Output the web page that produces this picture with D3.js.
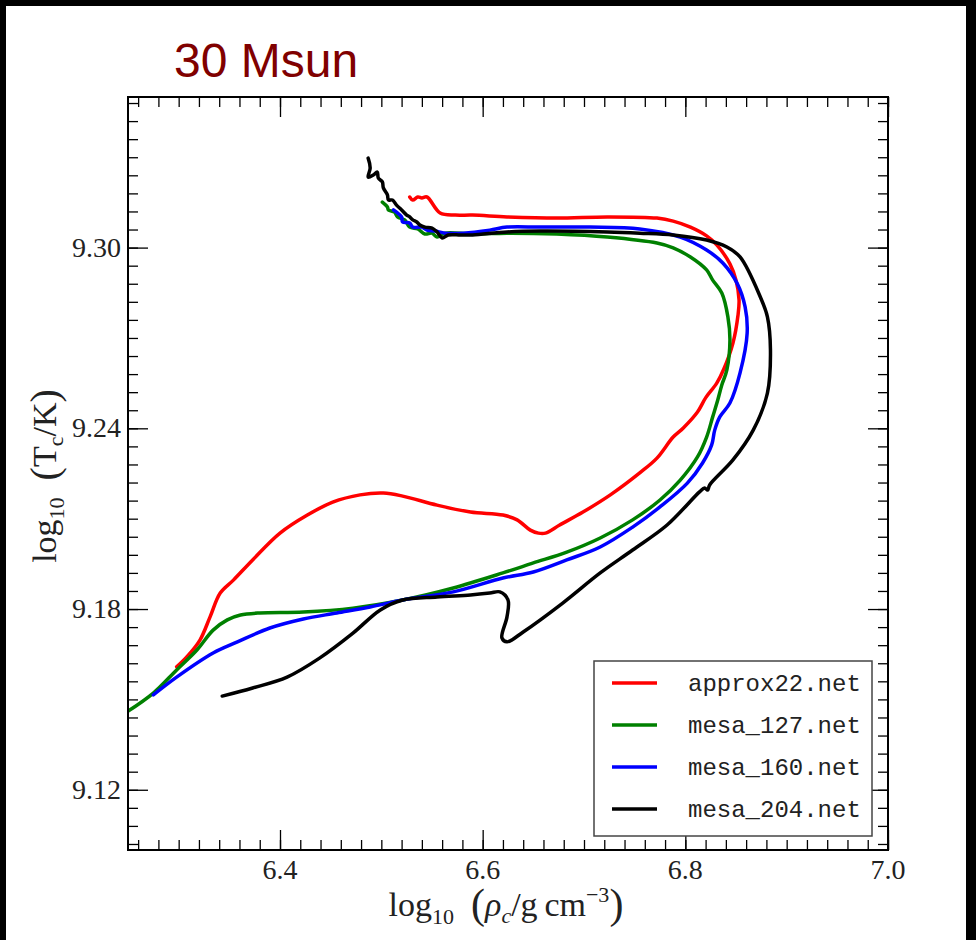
<!DOCTYPE html>
<html>
<head>
	<meta charset="utf-8">
	<title>30 Msun</title>
	<script src="https://cdn.jsdelivr.net/npm/d3@7"></script>
	<style>
		body { margin: 0; background: #000; }
		svg { display: block; }
	</style>
</head>
<body>
<script type="text/javascript">

	// series: [log10 rho_c, log10 T_c]
	var approx22 = [
		[6.298, 9.1608], [6.308, 9.1641], [6.321, 9.1697], [6.331, 9.1774], [6.341, 9.1853],
		[6.354, 9.1896], [6.373, 9.1963], [6.400, 9.2052], [6.427, 9.2112], [6.452, 9.2155],
		[6.479, 9.2179], [6.502, 9.2185], [6.521, 9.2175], [6.555, 9.2145], [6.588, 9.2122],
		[6.620, 9.2112], [6.634, 9.2096], [6.647, 9.2062], [6.655, 9.2052], [6.662, 9.2052],
		[6.676, 9.2079], [6.699, 9.2122], [6.726, 9.2179], [6.755, 9.2252], [6.772, 9.2301],
		[6.788, 9.2371], [6.798, 9.2401], [6.812, 9.2454], [6.820, 9.2501], [6.831, 9.2550],
		[6.838, 9.2597], [6.847, 9.2683], [6.852, 9.2776], [6.853, 9.2826], [6.850, 9.2892],
		[6.844, 9.2946], [6.831, 9.3009], [6.821, 9.3039], [6.805, 9.3068], [6.788, 9.3088],
		[6.772, 9.3098], [6.723, 9.3102], [6.673, 9.3098], [6.624, 9.3102], [6.590, 9.3108],
		[6.573, 9.3108], [6.558, 9.3115], [6.545, 9.3168], [6.540, 9.3165], [6.536, 9.3168],
		[6.531, 9.3158], [6.528, 9.3168]
	];

	var mesa127 = [
		[6.246, 9.1452], [6.275, 9.1521], [6.298, 9.1598], [6.318, 9.1664], [6.334, 9.1730],
		[6.348, 9.1764], [6.361, 9.1780], [6.380, 9.1787], [6.423, 9.1790], [6.472, 9.1803],
		[6.521, 9.1830], [6.571, 9.1870], [6.620, 9.1920], [6.650, 9.1953], [6.683, 9.1989],
		[6.716, 9.2036], [6.748, 9.2096], [6.775, 9.2162], [6.795, 9.2228], [6.812, 9.2305],
		[6.821, 9.2371], [6.827, 9.2438], [6.832, 9.2494], [6.836, 9.2544], [6.841, 9.2594],
		[6.844, 9.2693], [6.842, 9.2770], [6.836, 9.2849], [6.827, 9.2892], [6.821, 9.2926],
		[6.805, 9.2969], [6.788, 9.2999], [6.772, 9.3015], [6.723, 9.3035], [6.673, 9.3045],
		[6.624, 9.3048], [6.590, 9.3045], [6.563, 9.3048], [6.555, 9.3035], [6.550, 9.3048],
		[6.543, 9.3045], [6.536, 9.3062], [6.528, 9.3068], [6.523, 9.3092], [6.516, 9.3102],
		[6.513, 9.3118], [6.507, 9.3125], [6.506, 9.3135], [6.501, 9.3151]
	];

	var mesa160 = [
		[6.275, 9.1515], [6.298, 9.1574], [6.334, 9.1654], [6.358, 9.1691], [6.390, 9.1737],
		[6.423, 9.1767], [6.456, 9.1787], [6.489, 9.1807], [6.521, 9.1830], [6.571, 9.1857],
		[6.620, 9.1903], [6.650, 9.1923], [6.683, 9.1963], [6.716, 9.2006], [6.748, 9.2072],
		[6.775, 9.2139], [6.802, 9.2218], [6.817, 9.2285], [6.826, 9.2345], [6.829, 9.2394],
		[6.834, 9.2438], [6.844, 9.2484], [6.854, 9.2584], [6.861, 9.2716], [6.859, 9.2803],
		[6.851, 9.2882], [6.837, 9.2949], [6.821, 9.2992], [6.795, 9.3035], [6.755, 9.3062],
		[6.706, 9.3068], [6.657, 9.3068], [6.624, 9.3068], [6.607, 9.3058], [6.581, 9.3048],
		[6.563, 9.3048], [6.553, 9.3055], [6.545, 9.3058], [6.540, 9.3068], [6.531, 9.3068],
		[6.528, 9.3082], [6.521, 9.3085], [6.520, 9.3102], [6.515, 9.3118], [6.512, 9.3125]
	];

	var mesa204 = [
		[6.343, 9.1511], [6.373, 9.1538], [6.407, 9.1574], [6.439, 9.1637], [6.472, 9.1720],
		[6.499, 9.1797], [6.521, 9.1830], [6.555, 9.1840], [6.588, 9.1847], [6.607, 9.1853],
		[6.617, 9.1857], [6.625, 9.1830], [6.624, 9.1774], [6.619, 9.1704], [6.624, 9.1691],
		[6.640, 9.1724], [6.679, 9.1820], [6.716, 9.1920], [6.748, 9.1996], [6.782, 9.2079],
		[6.814, 9.2189], [6.819, 9.2202], [6.822, 9.2195], [6.824, 9.2212], [6.847, 9.2295],
		[6.867, 9.2394], [6.881, 9.2517], [6.884, 9.2660], [6.881, 9.2770], [6.874, 9.2836],
		[6.854, 9.2969], [6.841, 9.3002], [6.821, 9.3025], [6.788, 9.3042], [6.755, 9.3048],
		[6.723, 9.3052], [6.657, 9.3055], [6.624, 9.3052], [6.590, 9.3042], [6.578, 9.3042],
		[6.566, 9.3042], [6.560, 9.3032], [6.555, 9.3052], [6.550, 9.3065], [6.543, 9.3068],
		[6.538, 9.3075], [6.535, 9.3085], [6.531, 9.3092], [6.528, 9.3102], [6.525, 9.3108],
		[6.520, 9.3125], [6.515, 9.3141], [6.511, 9.3158], [6.507, 9.3158], [6.506, 9.3175],
		[6.502, 9.3198], [6.501, 9.3218], [6.497, 9.3231], [6.496, 9.3251], [6.492, 9.3241],
		[6.487, 9.3234], [6.489, 9.3264], [6.487, 9.3297]
	];

	var seriesNames = ["approx22.net", "mesa_127.net", "mesa_160.net", "mesa_204.net"];
	var seriesColors = ["#ff0000", "#008000", "#0000ff", "#000000"];
	var seriesData = [approx22, mesa127, mesa160, mesa204];

	var xMajor = [6.4, 6.6, 6.8, 7.0];
	var yMajor = [9.12, 9.18, 9.24, 9.30];
	var xDomain = [6.25, 7.0];
	var yDomain = [9.10, 9.35];

	var width = 976;
	var height = 940;
	// plot frame (window.top is taken, so prefix these)
	var pLeft = 128, pRight = 888, pTop = 97, pBottom = 850;

	var x = d3.scaleLinear().domain(xDomain).range([pLeft, pRight]);
	var y = d3.scaleLinear().domain(yDomain).range([pBottom, pTop]);

	var xMinor = d3.range(0, 38).map(function (i) { return +(6.26 + i * 0.02).toFixed(2); });
	var yMinor = d3.range(-3, 39).map(function (i) { return +(9.12 + i * 0.006).toFixed(3); });

	var svg = d3.select("body").append("svg")
		.attr("width", width)
		.attr("height", height);

	// page: black rim, white sheet
	svg.append("rect")
		.attr("x", 6).attr("y", 6)
		.attr("width", 960).attr("height", height - 6)
		.attr("fill", "#fff");

	svg.append("text")
		.attr("x", 174).attr("y", 77)
		.attr("font-family", "Liberation Sans, Arial, sans-serif")
		.attr("font-size", 48)
		.attr("fill", "#800000")
		.text("30 Msun");

	svg.append("defs").append("clipPath").attr("id", "plotclip")
		.append("rect")
		.attr("x", pLeft).attr("y", pTop)
		.attr("width", pRight - pLeft).attr("height", pBottom - pTop);

	// ticks, all pointing inward on the four sides
	function drawTicks(axis, tx, ty, vals, len) {
		svg.append("g")
			.attr("class", "tick-g")
			.attr("transform", "translate(" + tx + "," + ty + ")")
			.call(axis.tickValues(vals).tickSize(-len).tickFormat(""));
	}

	drawTicks(d3.axisBottom(x), 0, pBottom, xMinor, 10);
	drawTicks(d3.axisBottom(x), 0, pBottom, xMajor, 20);
	drawTicks(d3.axisTop(x), 0, pTop, xMinor, 10);
	drawTicks(d3.axisTop(x), 0, pTop, xMajor, 20);
	drawTicks(d3.axisLeft(y), pLeft, 0, yMinor, 10);
	drawTicks(d3.axisLeft(y), pLeft, 0, yMajor, 20);
	drawTicks(d3.axisRight(y), pRight, 0, yMinor, 10);
	drawTicks(d3.axisRight(y), pRight, 0, yMajor, 20);

	svg.selectAll(".tick-g .domain").remove();
	svg.selectAll(".tick-g line")
		.attr("stroke", "#000")
		.attr("stroke-width", 1.3);

	// tick labels
	svg.selectAll(".xlab")
		.data(xMajor)
		.enter()
			.append("text")
			.attr("class", "xlab")
			.attr("x", function (d) { return x(d); })
			.attr("y", 879)
			.attr("text-anchor", "middle")
			.attr("font-family", "Liberation Serif, serif")
			.attr("font-size", 28)
			.attr("fill", "#222")
			.text(d3.format(".1f"));

	svg.selectAll(".ylab")
		.data(yMajor)
		.enter()
			.append("text")
			.attr("class", "ylab")
			.attr("x", 121)
			.attr("y", function (d) { return y(d) + 9; })
			.attr("text-anchor", "end")
			.attr("font-family", "Liberation Serif, serif")
			.attr("font-size", 28)
			.attr("fill", "#222")
			.text(d3.format(".2f"));

	// curves
	var line = d3.line()
		.x(function (d) { return x(d[0]); })
		.y(function (d) { return y(d[1]); })
		.curve(d3.curveCatmullRom.alpha(0.5));

	svg.append("g")
		.attr("clip-path", "url(#plotclip)")
		.selectAll("path")
		.data(seriesData)
		.enter()
			.append("path")
			.attr("d", line)
			.attr("fill", "none")
			.attr("stroke", function (d, i) { return seriesColors[i]; })
			.attr("stroke-width", 3.5)
			.attr("stroke-linejoin", "round")
			.attr("stroke-linecap", "round");

	// frame
	svg.append("rect")
		.attr("x", pLeft).attr("y", pTop)
		.attr("width", pRight - pLeft).attr("height", pBottom - pTop)
		.attr("fill", "none")
		.attr("stroke", "#000")
		.attr("stroke-width", 2);

	// axis titles
	var xt = svg.append("text")
		.attr("x", 506).attr("y", 916)
		.attr("text-anchor", "middle")
		.attr("font-family", "Liberation Serif, serif")
		.attr("font-size", 34)
		.attr("fill", "#222");
	xt.append("tspan").text("log");
	xt.append("tspan").attr("font-size", 22).attr("dy", 8).text("10");
	xt.append("tspan").attr("dy", -8).text("\u2002");
	xt.append("tspan").attr("font-size", 42).attr("dy", 2).text("(");
	xt.append("tspan").attr("dy", -2).attr("font-style", "italic").text("\u03c1");
	xt.append("tspan").attr("font-size", 22).attr("dy", 7).attr("font-style", "italic").text("c");
	xt.append("tspan").attr("dy", -7).text("/g\u2009cm");
	xt.append("tspan").attr("font-size", 22).attr("dy", -14).text("\u22123");
	xt.append("tspan").attr("font-size", 42).attr("dy", 16).text(")");

	var yt = svg.append("text")
		.attr("transform", "translate(56,476) rotate(-90)")
		.attr("text-anchor", "middle")
		.attr("font-family", "Liberation Serif, serif")
		.attr("font-size", 34)
		.attr("fill", "#222");
	yt.append("tspan").text("log");
	yt.append("tspan").attr("font-size", 22).attr("dy", 8).text("10");
	yt.append("tspan").attr("dy", -8).text("\u2002");
	yt.append("tspan").attr("font-size", 40).attr("dy", 2).text("(");
	yt.append("tspan").attr("dy", -2).text("T");
	yt.append("tspan").attr("font-size", 22).attr("dy", 7).text("c");
	yt.append("tspan").attr("dy", -7).text("/K");
	yt.append("tspan").attr("font-size", 40).attr("dy", 2).text(")");

	// legend
	var legend = svg.append("g");
	legend.append("rect")
		.attr("x", 594).attr("y", 661)
		.attr("width", 278).attr("height", 175)
		.attr("fill", "#fff")
		.attr("stroke", "#444")
		.attr("stroke-width", 1.5);

	var rows = legend.selectAll("g.row")
		.data(seriesNames)
		.enter()
			.append("g")
			.attr("class", "row")
			.attr("transform", function (d, i) { return "translate(0," + (683 + i * 42) + ")"; });

	rows.append("line")
		.attr("x1", 612).attr("x2", 657)
		.attr("stroke", function (d, i) { return seriesColors[i]; })
		.attr("stroke-width", 3.5);

	rows.append("text")
		.attr("x", 688).attr("y", 8)
		.attr("font-family", "Liberation Mono, Courier New, monospace")
		.attr("font-size", 24)
		.attr("fill", "#222")
		.text(function (d) { return d; });

</script>
</body>
</html>
